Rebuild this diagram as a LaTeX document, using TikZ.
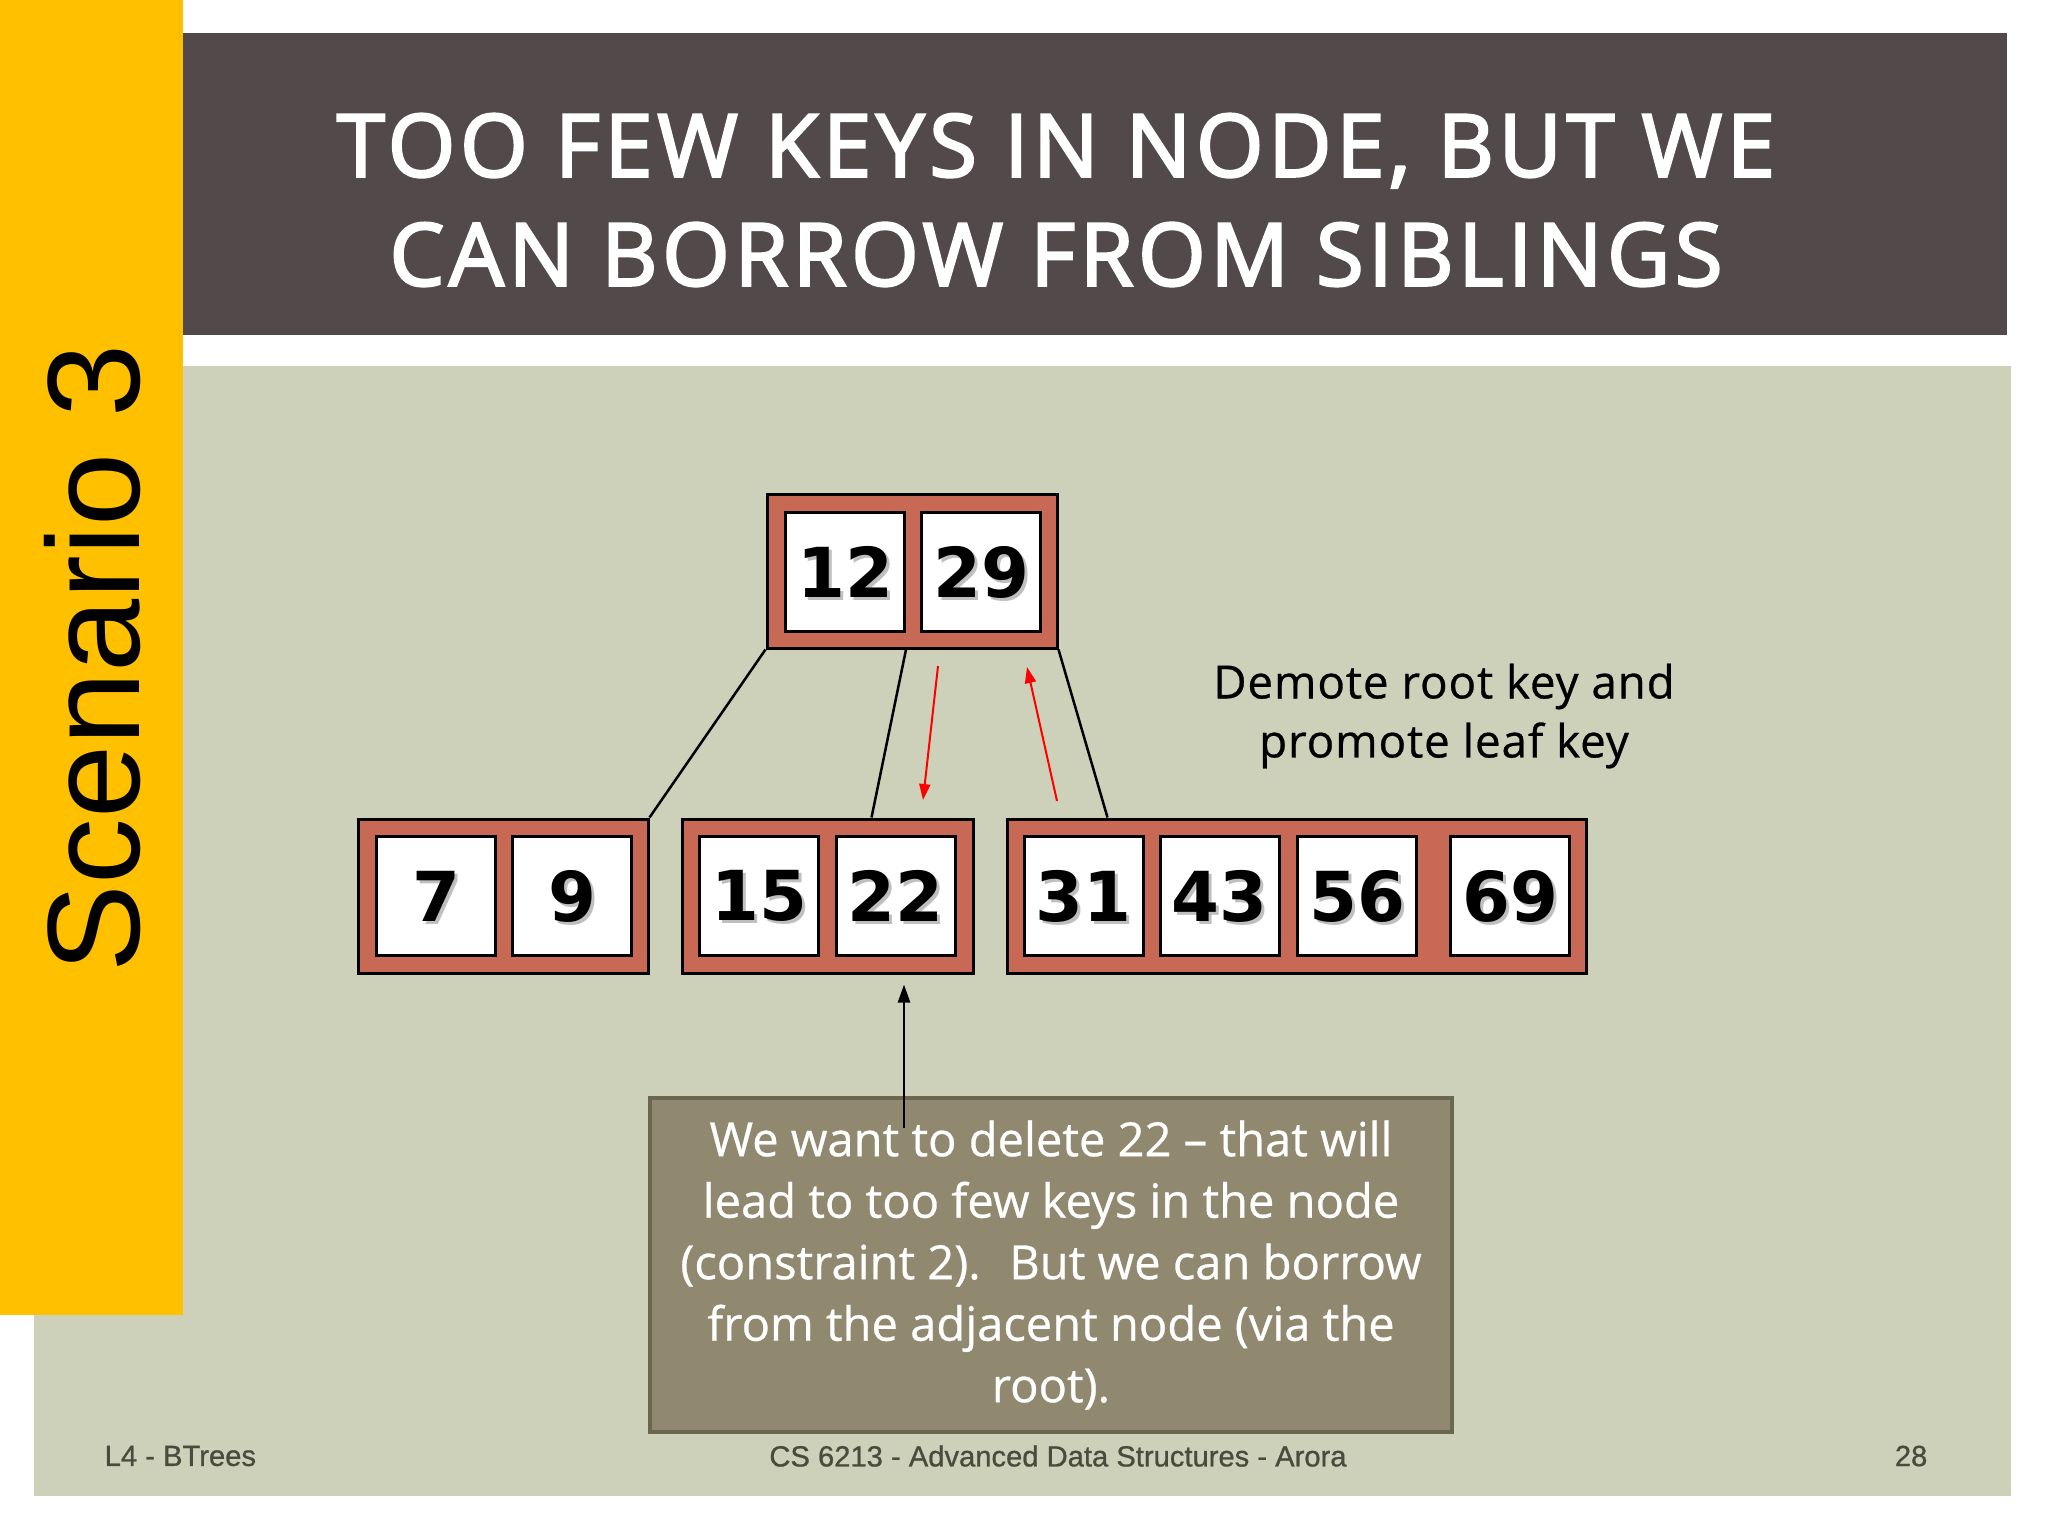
\documentclass[tikz,border=0pt]{standalone}
\usepackage{fontspec}
\setmainfont{Liberation Sans}
\newfontfamily\titlefont[LetterSpace=5.4,FakeBold=2.8]{Open Sans}
\newfontfamily\bodyfont[FakeBold=0.6]{Open Sans}
\newfontfamily\demotefont[LetterSpace=2,FakeBold=0.6]{Open Sans}
\newfontfamily\keyfont{DejaVu Sans}
\newfontfamily\footfont[FakeBold=0.8]{Liberation Sans}
\usetikzlibrary{arrows.meta}

\definecolor{ffcqqq}{rgb}{1.,0.753,0.}
\definecolor{titlegray}{rgb}{0.322,0.290,0.290}
\definecolor{sage}{rgb}{0.804,0.820,0.725}
\definecolor{brick}{rgb}{0.780,0.412,0.333}
\definecolor{olive}{rgb}{0.565,0.537,0.439}
\definecolor{olivedark}{rgb}{0.420,0.400,0.310}
\definecolor{footgray}{rgb}{0.29,0.29,0.24}

% key digits with a soft drop shadow
\newcommand\shkey[1]{\makebox[0pt][l]{\hspace{0.3mm}\raisebox{-0.3mm}[0pt][0pt]{\color{black!25}#1}}#1}

\begin{document}
\begin{tikzpicture}[x=0.1mm,y=-0.1mm,
	outer/.style={draw,line width=0.3mm,fill=brick,inner sep=0,minimum height=15.4mm},
	key/.style={draw,line width=0.3mm,fill=white,inner sep=0,minimum width=11.9mm,minimum height=11.9mm,
		font=\keyfont\bfseries\fontsize{19.6pt}{22pt}\selectfont},
	edge/.style={line width=0.25mm},
	redarr/.style={red,line width=0.2mm,-{Triangle[length=1.6mm,width=1.1mm]}},
	ptrarr/.style={line width=0.25mm,-{Triangle[length=1.8mm,width=1.2mm]},shorten >=1mm},
	foot/.style={text=footgray,inner sep=0,font=\footfont\fontsize{8.3pt}{10pt}\selectfont}]
	\useasboundingbox (0,0) rectangle (2048,1536);
	\fill[sage] (34,366) rectangle (2011,1496);
	\fill[titlegray] (183,33) rectangle (2007,335);
	\fill[ffcqqq] (0,0) rectangle (183,1315);
	\node[rotate=90,inner sep=0,font=\fontsize{37.4pt}{40pt}\selectfont] (scen) at (93,658) {Scenario 3};
	\node[text=white,align=center,inner sep=0,font=\titlefont\fontsize{24.7pt}{31pt}\selectfont] (title) at (1056,200)
		{TOO FEW KEYS IN NODE, BUT WE\\CAN BORROW FROM SIBLINGS};
	% tree
	\node[outer,minimum width=29mm] (root) at (912,571) {};
	\node[key] (k12) at (845,572) {\shkey{12}};
	\node[key] (k29) at (981,572) {\shkey{29}};
	\node[outer,minimum width=29mm] (leafA) at (503,896) {};
	\node[key] (k7) at (436,896) {\shkey{7}};
	\node[key] (k9) at (572,896) {\shkey{9}};
	\node[outer,minimum width=29.1mm] (leafB) at (827.5,896) {};
	\node[key] (k15) at (759,896) {\shkey{15}};
	\node[key] (k22) at (895.5,896) {\shkey{22}};
	\node[outer,minimum width=57.9mm] (leafC) at (1296.5,896) {};
	\node[key] (k31) at (1083.5,896) {\shkey{31}};
	\node[key] (k43) at (1219.5,896) {\shkey{43}};
	\node[key] (k56) at (1357,896) {\shkey{56}};
	\node[key] (k69) at (1510,896) {\shkey{69}};
	\draw[edge] (root.south west) -- (leafA.north east);
	\draw[edge] (k12.east |- root.south) -- ([xshift=4.4mm]leafB.north);
	\draw[edge] (root.south east) -- ([xshift=10.2mm]leafC.north west);
	\coordinate (dnA) at (938,666);
	\coordinate (dnB) at (923,800);
	\coordinate (upA) at (1057,801);
	\coordinate (upB) at (1027,667);
	\draw[redarr] (dnA) -- (dnB);
	\draw[redarr] (upA) -- (upB);
	\node[align=center,inner sep=0,font=\demotefont\fontsize{13pt}{16.8pt}\selectfont] (demote) at (1444,716)
		{Demote root key and\\promote leaf key};
	% note box
	\node[draw=olivedark,line width=0.35mm,fill=olive,minimum width=80.2mm,minimum height=33.4mm,inner sep=0,
		text=white,align=center,font=\bodyfont\fontsize{13.4pt}{17.5pt}\selectfont] (note) at (1051,1265)
		{We want to delete 22 – that will\\lead to too few keys in the node\\(constraint 2).~ But we can borrow\\from the adjacent node (via the\\root).};
	\coordinate (ptr) at (904,1128);
	\draw[ptrarr] (ptr) -- (ptr |- leafB.south);
	% footer
	\node[foot,anchor=west] (lfoot) at (104,1456) {L4 - BTrees};
	\node[foot] (cfoot) at (1058,1456) {CS 6213 - Advanced Data Structures - Arora};
	\node[foot,anchor=east] (rfoot) at (1928,1456) {28};
\end{tikzpicture}
\end{document}
